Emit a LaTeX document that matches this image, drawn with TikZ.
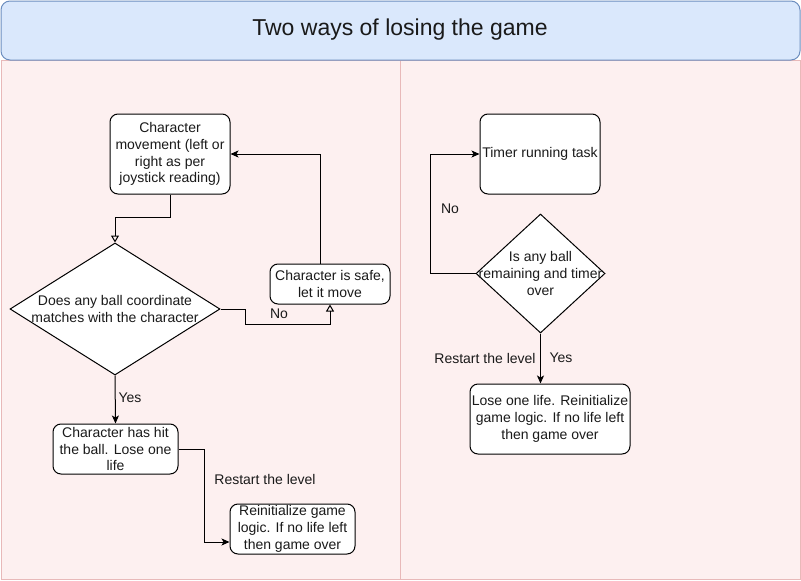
\documentclass[tikz,border=0pt]{standalone}
\usepackage{fontspec}
\setmainfont{Liberation Sans}
\usetikzlibrary{calc,shapes.geometric,arrows.meta}
\definecolor{titlefill}{HTML}{DAE8FC}
\definecolor{titleline}{HTML}{6C8EBF}
\definecolor{panelfill}{HTML}{FDF0F0}
\definecolor{panelline}{HTML}{E8B9B9}
\definecolor{ink}{HTML}{1A1A1A}
\begin{document}
\begin{tikzpicture}[x=1pt,y=-1pt,
		box/.style={draw,rounded corners=8pt,line width=1pt,fill=white,text=ink,align=center,inner sep=0pt,
			font=\fontsize{14}{16.9}\selectfont},
		dia/.style={draw,diamond,line width=1pt,fill=white,inner sep=0pt},
		txt/.style={text=ink,align=center,inner sep=0pt,font=\fontsize{14}{16.9}\selectfont},
		open/.style={-{Triangle[open,length=7pt,width=8pt]}},
		solid/.style={-{Stealth[length=8pt,width=7pt,inset=2pt]}},
		line width=1pt]
		\useasboundingbox (0,0) rectangle (801,581);
		%背景
		\filldraw[fill=panelfill,draw=panelline] (1,60) rectangle (400,579);
		\filldraw[fill=panelfill,draw=panelline] (400,60) rectangle (800,579);
		\filldraw[fill=titlefill,draw=titleline,rounded corners=9pt] (1,1) rectangle (800,60);
		\node[txt,font=\fontsize{23}{26}\selectfont] (title) at (400,30) {Two ways of losing the game};
		%左側
		\node[box,minimum width=120pt,minimum height=80pt] (move) at (170,154) {Character\\movement (left or\\right as per\\joystick reading)};
		\node[dia,minimum width=210pt,minimum height=132pt] (hitq) at (115,309) {};
		\node[txt] (hitqt) at (hitq) {Does any ball coordinate\\matches with the character};
		\node[box,minimum width=120pt,minimum height=40pt] (safe) at (330,284) {Character is safe,\\let it move};
		\node[box,minimum width=125pt,minimum height=50pt] (hit) at (115.5,449) {Character has hit\\the ball. Lose one\\life};
		\node[box,minimum width=125pt,minimum height=50pt] (reinit) at (292.5,529) {Reinitialize game\\logic. If no life left\\then game over};
		\draw[open] (move.south) -- ++(0,23) -| (hitq.north);
		\draw[open] (hitq.east) -- ++(25,0) -- ++(0,15) -| (safe.south);
		\draw[solid] ([xshift=-10pt]safe.north) |- (move.east);
		\draw[solid] (hitq.south) -- (hit.north);
		\draw[solid] (hit.east) -- ++(26,0) |- ([yshift=-13pt]reinit.west);
		\node[txt] (no1) at (279,314) {No};
		\node[txt] (yes1) at (130,398) {Yes};
		\node[txt] (restart1) at (265,479) {Restart the level};
		%右側
		\node[box,minimum width=120pt,minimum height=80pt] (timer) at (540,154) {};
		\node[txt] (timert) at (540,154) {Timer running task};
		\node[dia,minimum width=129pt,minimum height=119pt] (timeq) at (540.5,273.5) {};
		\node[txt] (timeqt) at (timeq) {Is any ball\\remaining and timer\\over};
		\node[box,minimum width=160pt,minimum height=70pt] (lose) at (550,419) {Lose one life. Reinitialize\\game logic. If no life left\\then game over};
		\draw[solid] (timeq.west) -- ++(-45,0) |- (timer.west);
		\draw[solid] (timeq.south) -- (timeq.south |- lose.north);
		\node[txt] (no2) at (450,209) {No};
		\node[txt] (yes2) at (561,358) {Yes};
		\node[txt] (restart2) at (485,358) {Restart the level};
	\end{tikzpicture}
\end{document}
